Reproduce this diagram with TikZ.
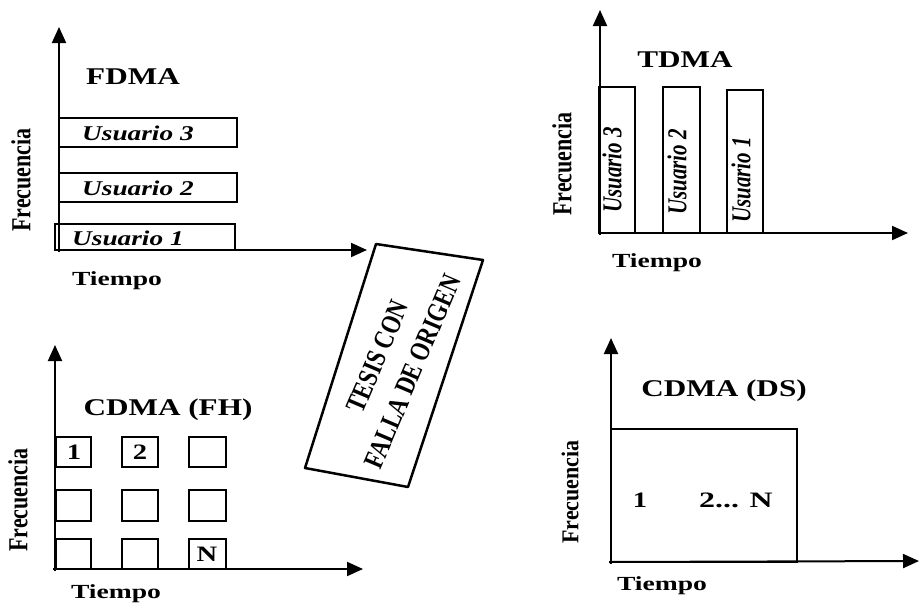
\documentclass[tikz,border=0pt]{standalone}
\usepackage{fontspec}
\setmainfont{Liberation Serif}
\usepackage{graphicx}
\usetikzlibrary{arrows.meta}
\newcommand{\hs}[2][1.3]{\scalebox{#1}[1]{#2}}
\newcommand{\vs}[2][1.3]{\scalebox{1}[#1]{#2}}
\begin{document}
\begin{tikzpicture}[x=1pt,y=-1pt,
  axis/.style={line width=2pt,-{Triangle[length=16pt,width=14pt]}},
  box/.style={draw,line width=1.8pt},
  title/.style={font=\fontsize{24}{24}\selectfont\bfseries,inner sep=0pt},
  user/.style={font=\fontsize{21}{21}\selectfont\bfseries\itshape,inner sep=0pt},
  vuser/.style={font=\fontsize{21}{21}\selectfont\bfseries\itshape,inner sep=0pt,rotate=90},
  freq/.style={font=\fontsize{22}{22}\selectfont\bfseries,inner sep=0pt,rotate=90},
  tiempo/.style={font=\fontsize{20}{20}\selectfont\bfseries,inner sep=0pt},
  num/.style={font=\fontsize{22}{22}\selectfont\bfseries,inner sep=0pt},
  stamp/.style={font=\fontsize{28}{38}\selectfont\bfseries,inner sep=0pt,rotate=67,align=center}
]
\useasboundingbox (0,0) rectangle (921,606);

% ---------- FDMA ----------
\coordinate (fy0) at (59,252);
\coordinate (fy1) at (59,27);
\coordinate (fx0) at (54,250);
\coordinate (fx1) at (367,250);
\draw[axis] (fy0) -- (fy1);
\draw[axis] (fx0) -- (fx1);
\node[title] (fdma) at (133,77) {\hs{FDMA}};
\draw[box] (59,118) rectangle (237,147);
\draw[box] (59,173) rectangle (237,202);
\draw[box] (55,224) rectangle (235,250);
\node[user,anchor=west] (fu3) at (82,133) {\hs{Usuario 3}};
\node[user,anchor=west] (fu2) at (82,188) {\hs{Usuario 2}};
\node[user,anchor=west] (fu1) at (72,238) {\hs{Usuario 1}};
\node[freq] (ffreq) at (21,180) {\vs[1.25]{Frecuencia}};
\node[tiempo] (ftiempo) at (117,281) {\hs[1.38]{Tiempo}};

% ---------- TDMA ----------
\coordinate (ty0) at (600,235);
\coordinate (ty1) at (600,10);
\coordinate (tx0) at (598,233);
\coordinate (tx1) at (908,233);
\draw[axis] (ty0) -- (ty1);
\draw[axis] (tx0) -- (tx1);
\node[title] (tdma) at (685,60) {\hs{TDMA}};
\draw[box] (599,87) rectangle (635,233);
\draw[box] (663,87) rectangle (700,233);
\draw[box] (727,90) rectangle (763,233);
\node[vuser] (tu3) at (612,170) {\vs{Usuario 3}};
\node[vuser] (tu2) at (677,172) {\vs{Usuario 2}};
\node[vuser] (tu1) at (741,180) {\vs{Usuario 1}};
\node[freq] (tfreq) at (562,164) {\vs[1.25]{Frecuencia}};
\node[tiempo] (ttiempo) at (657,263) {\hs[1.38]{Tiempo}};

% ---------- CDMA (FH) ----------
\coordinate (hy0) at (55,571);
\coordinate (hy1) at (55,345);
\coordinate (hx0) at (53,569);
\coordinate (hx1) at (363,569);
\draw[axis] (hy0) -- (hy1);
\draw[axis] (hx0) -- (hx1);
\node[title] (fh) at (168,410) {\hs{CDMA (FH)}};
\foreach \xa/\xb in {56/91,122/158,189/226}{
  \foreach \ya/\yb in {437/467,490/521,539/569}{
    \draw[box] (\xa,\ya) rectangle (\xb,\yb);
  }
}
\node[num] (h1) at (74,452) {\hs{1}};
\node[num] (h2) at (140,452) {\hs{2}};
\node[num] (hN) at (207,554) {\hs{N}};
\node[freq] (hfreq) at (18,500) {\vs[1.25]{Frecuencia}};
\node[tiempo] (htiempo) at (116,594) {\hs[1.38]{Tiempo}};

% ---------- CDMA (DS) ----------
\coordinate (dy0) at (611,564);
\coordinate (dy1) at (611,338);
\coordinate (dx0) at (609,562);
\coordinate (dx1) at (919,561);
\draw[axis] (dy0) -- (dy1);
\draw[axis] (dx0) -- (dx1);
\node[title] (ds) at (724,391) {\hs{CDMA (DS)}};
\draw[box] (611,429) rectangle (797,562);
\node[num] (d1) at (640,500) {\hs{1}};
\node[num] (d2) at (736,500) {\hs[1.45]{2... N}};
\node[freq] (dfreq) at (570,492) {\vs[1.1]{Frecuencia}};
\node[tiempo] (dtiempo) at (662,586) {\hs[1.38]{Tiempo}};

% ---------- stamp ----------
\coordinate (s1) at (376,244);
\coordinate (s2) at (483,260);
\coordinate (s3) at (408,487);
\coordinate (s4) at (305,468);
\draw[line width=2.5pt,line join=round] (s1) -- (s2) -- (s3) -- (s4) -- cycle;
\node[stamp] (st) at (395,364) {\hs[0.8]{TESIS CON}\\\hs[0.8]{FALLA DE ORIGEN}};
\end{tikzpicture}
\end{document}
